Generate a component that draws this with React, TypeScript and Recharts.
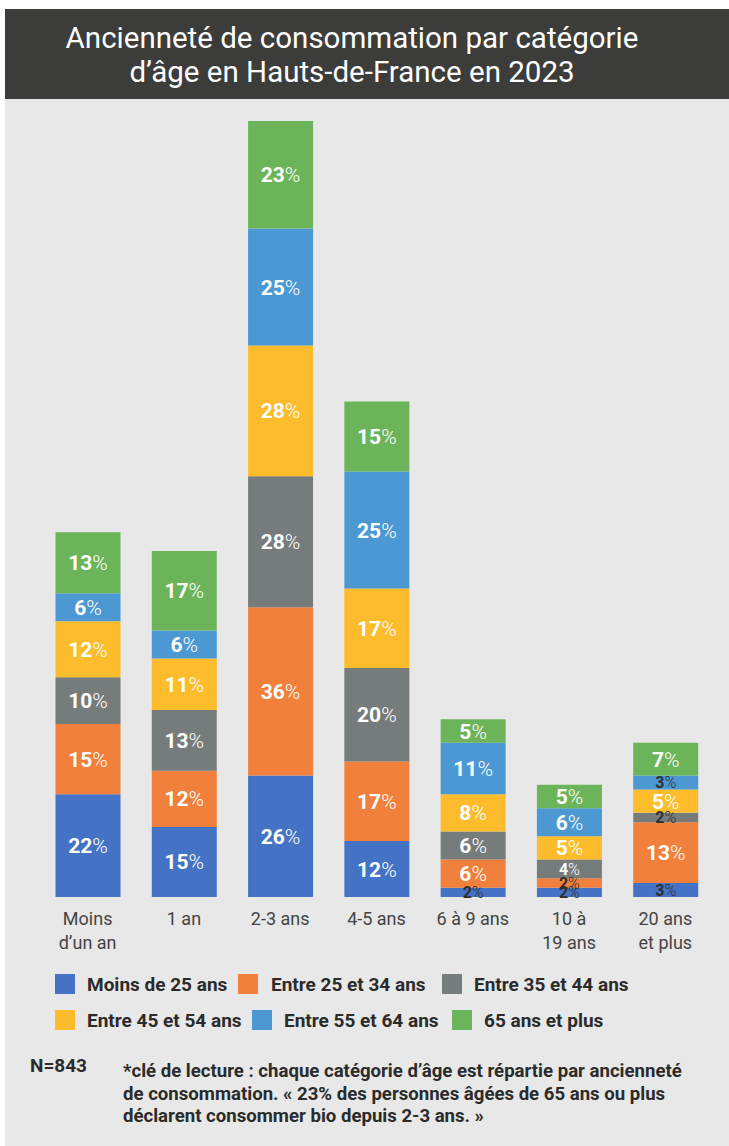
import React from 'react';
import { BarChart, Bar, XAxis, YAxis, LabelList } from 'recharts';

const categories = ['Moins d’un an', '1 an', '2-3 ans', '4-5 ans', '6 à 9 ans', '10 à 19 ans', '20 ans et plus'];
const categoryLines = [['Moins', 'd’un an'], ['1 an'], ['2-3 ans'], ['4-5 ans'], ['6 à 9 ans'], ['10 à', '19 ans'], ['20 ans', 'et plus']];

const seriesNames = ['Moins de 25 ans', 'Entre 25 et 34 ans', 'Entre 35 et 44 ans', 'Entre 45 et 54 ans', 'Entre 55 et 64 ans', '65 ans et plus'];
const seriesColors = ['#4472c4', '#f0803c', '#767b7c', '#fdbc2c', '#4b98d3', '#6cb45a'];

const moins25 = [22, 15, 26, 12, 2, 2, 3];
const entre25_34 = [15, 12, 36, 17, 6, 2, 13];
const entre35_44 = [10, 13, 28, 20, 6, 4, 2];
const entre45_54 = [12, 11, 28, 17, 8, 5, 5];
const entre55_64 = [6, 6, 25, 25, 11, 6, 3];
const plus65 = [13, 17, 23, 15, 5, 5, 7];

const seriesValues = [moins25, entre25_34, entre35_44, entre45_54, entre55_64, plus65];
const seriesKeys = ['s0', 's1', 's2', 's3', 's4', 's5'];

const data = categories.map((c, i) => {
  const row: any = { name: c, lines: categoryLines[i] };
  seriesKeys.forEach((k, j) => { row[k] = seriesValues[j][i]; });
  return row;
});

const FONT = 'Roboto, "Noto Sans", sans-serif';

const renderLabel = (props: any) => {
  const { x, y, width, height, value } = props;
  const v = Number(value);
  const small = v <= 4;
  const fs = small ? 16 : 21;
  const cx = Number(x) + Number(width) / 2;
  const cy = Number(y) + Number(height) / 2 + fs * 0.36;
  const fill = v <= 3 ? '#2f2f2f' : '#ffffff';
  return (
    <text x={cx} y={cy} textAnchor="middle" fill={fill} fontFamily={FONT} fontSize={fs}>
      <tspan fontWeight={700}>{v}</tspan>
      <tspan fontWeight={300}>%</tspan>
    </text>
  );
};

const renderTick = (props: any) => {
  const { x, y, payload, index } = props;
  const lines = categoryLines[index] || [String(payload.value)];
  return (
    <text x={x} y={y} textAnchor="middle" fill="#444444" fontFamily={FONT} fontSize={18}>
      {lines.map((l: string, i: number) => (
        <tspan key={i} x={x} y={Number(y) + 28 + i * 24}>{l}</tspan>
      ))}
    </text>
  );
};

const legendRows = [
  [{ i: 0, sq: 55, tx: 87 }, { i: 1, sq: 238, tx: 271 }, { i: 2, sq: 442, tx: 474 }],
  [{ i: 3, sq: 55, tx: 87 }, { i: 4, sq: 252, tx: 284 }, { i: 5, sq: 452, tx: 484 }],
];
const legendRowTop = [974, 1010];

export default function App() {
  return (
    <div style={{ position: 'absolute', left: 0, top: 0, width: 729, height: 1146, background: '#ffffff', overflow: 'hidden' }}>
      <svg width={729} height={1146} style={{ position: 'absolute', left: 0, top: 0 }}>
        <rect x={5} y={9} width={724} height={1137} fill="#e7e8e7" />
        <rect x={5} y={9} width={724} height={90} fill="#3c3c3b" />
        <text x={352} y={48} textAnchor="middle" fill="#ffffff" fontFamily={FONT} fontSize={29.5}>Ancienneté de consommation par catégorie</text>
        <text x={352} y={82} textAnchor="middle" fill="#ffffff" fontFamily={FONT} fontSize={29.5}>d’âge en Hauts-de-France en 2023</text>
        {legendRows.map((row, r) => row.map((it) => (
          <g key={`${r}-${it.i}`}>
            <rect x={it.sq} y={legendRowTop[r]} width={20} height={20} fill={seriesColors[it.i]} />
            <text x={it.tx} y={legendRowTop[r] + 17} fill="#2b2b2b" fontFamily={FONT} fontSize={19} fontWeight={700}>{seriesNames[it.i]}</text>
          </g>
        )))}
        <text x={30} y={1072} fill="#2b2b2b" fontFamily={FONT} fontSize={19} fontWeight={700}>N=843</text>
        <text fill="#2b2b2b" fontFamily={FONT} fontSize={18.6} fontWeight={700}>
          <tspan x={123} y={1077}>*clé de lecture : chaque catégorie d’âge est répartie par ancienneté</tspan>
          <tspan x={123} y={1100}>de consommation. « 23% des personnes âgées de 65 ans ou plus</tspan>
          <tspan x={123} y={1122}>déclarent consommer bio depuis 2-3 ans. »</tspan>
        </text>
      </svg>
      <div style={{ position: 'absolute', left: 0, top: 0 }}>
        <BarChart
          width={729}
          height={1146}
          data={data}
          margin={{ top: 121, right: 15.5, left: 39.5, bottom: 189 }}
          barSize={65}
          style={{ fontFamily: FONT }}
        >
          <XAxis
            dataKey="name"
            height={60}
            axisLine={false}
            tickLine={false}
            tickSize={0}
            tickMargin={0}
            interval={0}
            tick={renderTick}
          />
          <YAxis hide domain={[0, 166]} type="number" allowDataOverflow />
          {seriesKeys.map((k, j) => (
            <Bar key={k} dataKey={k} name={seriesNames[j]} stackId="a" fill={seriesColors[j]} isAnimationActive={false}>
              <LabelList dataKey={k} content={renderLabel} />
            </Bar>
          ))}
        </BarChart>
      </div>
    </div>
  );
}
